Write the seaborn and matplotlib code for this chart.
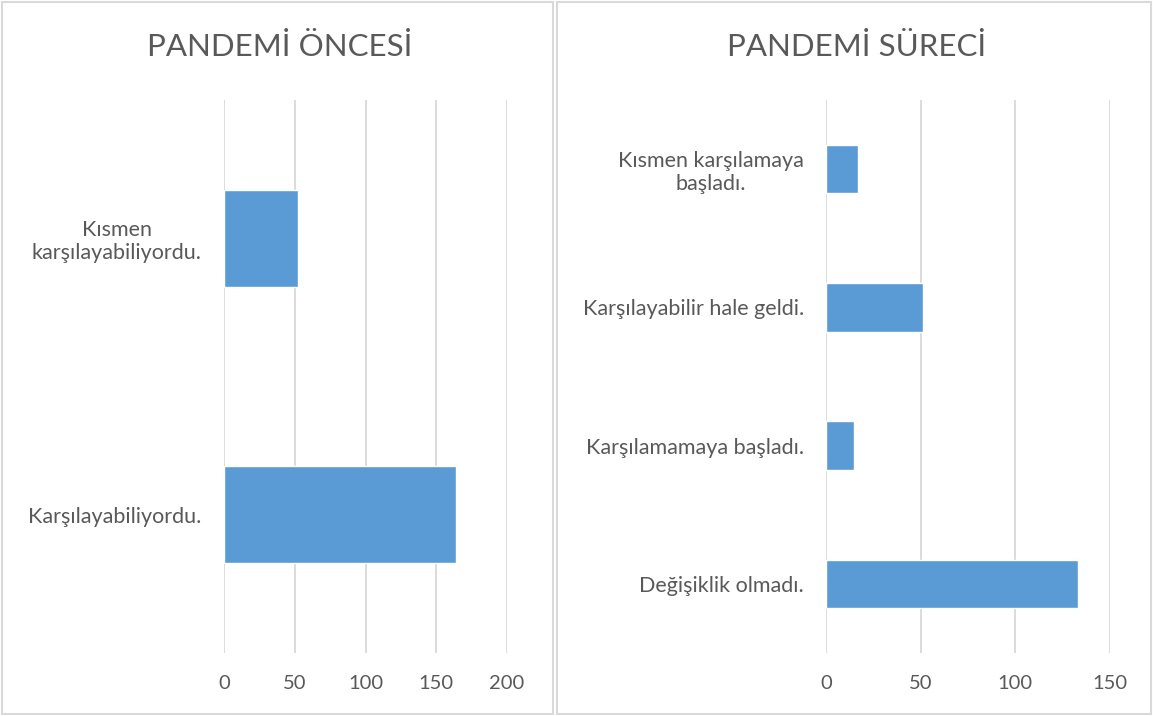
import pandas as pd
import numpy as np
import seaborn as sns
import matplotlib.pyplot as plt
from matplotlib.patches import Rectangle

# veriler
before_labels = ["Kısmen\nkarşılayabiliyordu.", "Karşılayabiliyordu."]
before_values = [52, 164]
during_labels = ["Kısmen karşılamaya\nbaşladı.", "Karşılayabilir hale geldi.",
                 "Karşılamamaya başladı.", "Değişiklik olmadı."]
during_values = [17, 51, 15, 133]
before_ticks = [0, 50, 100, 150, 200]
during_ticks = [0, 50, 100, 150]

sns.set_style("white")
plt.rcParams['font.family'] = ['Lato', 'DejaVu Sans']

BAR = "#5B9BD5"
TXT = "#595959"
GRID = "#D9D9D9"

W, H = 1153, 716
fig = plt.figure(figsize=(W / 100, H / 100), dpi=100)


def px_axes(x0, x1, y0, y1):
    return fig.add_axes([x0 / W, 1 - y1 / H, (x1 - x0) / W, (y1 - y0) / H])


# panel kenarlari
for x0, x1 in [(2, 553), (557, 1151)]:
    fig.patches.append(Rectangle((x0 / W, 2 / H), (x1 - x0) / W, (H - 4) / H,
                                 transform=fig.transFigure, fill=False,
                                 edgecolor=GRID, linewidth=1.5))


def panel(ax, labels, values, ticks, title, title_x):
    df = pd.DataFrame({"kategori": labels, "deger": values})
    sns.barplot(data=df, x="deger", y="kategori", orient="h", color=BAR,
                saturation=1, width=0.35, ax=ax)
    ax.set_xlim(ticks[0], ticks[-1])
    ax.set_xticks(ticks)
    ax.set_xlabel("")
    ax.set_ylabel("")
    ax.grid(axis="x", color=GRID, linewidth=1.3)
    ax.set_axisbelow(True)
    sns.despine(ax=ax, left=True, bottom=True)
    ax.tick_params(axis="x", length=0, pad=16, labelsize=14.5, labelcolor=TXT)
    ax.tick_params(axis="y", length=0, pad=16, labelsize=15.5, labelcolor=TXT)
    for t in ax.get_yticklabels():
        t.set_multialignment("center")
    fig.text(title_x / W, 1 - 47 / H, title, ha="center", va="center",
             fontsize=22.5, color=TXT)


ax1 = px_axes(224, 507, 100, 653)
panel(ax1, before_labels, before_values, before_ticks, "PANDEMİ ÖNCESİ", 280)

ax2 = px_axes(826, 1110, 100, 653)
panel(ax2, during_labels, during_values, during_ticks, "PANDEMİ SÜRECİ", 857)

fig.savefig("out.png", dpi=100)
